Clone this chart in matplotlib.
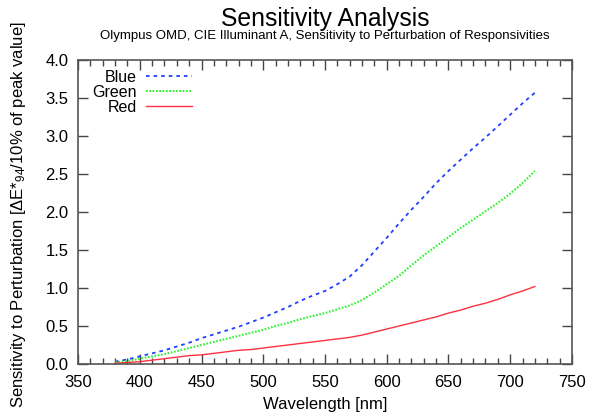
import matplotlib
matplotlib.use("Agg")
import matplotlib.pyplot as plt
from matplotlib.ticker import MultipleLocator, FormatStrFormatter

plt.rcParams['font.family'] = ['Liberation Sans', 'DejaVu Sans']
plt.rcParams['mathtext.fontset'] = 'custom'
plt.rcParams['mathtext.rm'] = 'Liberation Sans'
plt.rcParams['mathtext.it'] = 'Liberation Sans'

wavelength = list(range(380, 721, 10))
blue = [0.03, 0.06, 0.10, 0.14, 0.18, 0.23, 0.28, 0.34, 0.39, 0.44,
        0.49, 0.55, 0.61, 0.68, 0.75, 0.83, 0.90, 0.96, 1.05, 1.15,
        1.30, 1.48, 1.66, 1.85, 2.03, 2.20, 2.38, 2.54, 2.69, 2.84,
        2.98, 3.13, 3.28, 3.43, 3.57]
green = [0.02, 0.04, 0.07, 0.10, 0.13, 0.17, 0.21, 0.25, 0.29, 0.33,
         0.37, 0.41, 0.45, 0.50, 0.54, 0.59, 0.63, 0.67, 0.72, 0.77,
         0.84, 0.94, 1.05, 1.16, 1.30, 1.43, 1.55, 1.67, 1.79, 1.90,
         2.01, 2.12, 2.24, 2.38, 2.54]
red = [0.01, 0.02, 0.03, 0.05, 0.07, 0.09, 0.11, 0.12, 0.14, 0.16,
       0.18, 0.19, 0.21, 0.23, 0.25, 0.27, 0.29, 0.31, 0.33, 0.35,
       0.38, 0.42, 0.46, 0.50, 0.54, 0.58, 0.62, 0.67, 0.71, 0.76,
       0.80, 0.85, 0.91, 0.96, 1.02]

fig = plt.figure(figsize=(5.97, 4.19), dpi=100)
ax = fig.add_axes([0.1307, 0.1313, 0.958 - 0.1307, 0.8568 - 0.1313])

ax.plot(wavelength, blue, color='#2040ff', lw=1.3, dashes=(2, 2.2), label='Blue')
ax.plot(wavelength, green, color='#30f030', lw=1.5, dashes=(0.8, 0.8), label='Green')
ax.plot(wavelength, red, color='#ff3040', lw=1.0, label='Red')

ax.set_xlim(350, 750)
ax.set_ylim(0, 4.0)
ax.xaxis.set_major_locator(MultipleLocator(50))
ax.xaxis.set_minor_locator(MultipleLocator(10))
ax.yaxis.set_major_locator(MultipleLocator(0.5))
ax.yaxis.set_major_formatter(FormatStrFormatter('%.1f'))
ax.tick_params(which='both', direction='in', top=True, right=True,
               labelsize=12, color='#444444')
ax.tick_params(which='major', length=7, width=1)
ax.tick_params(which='minor', length=4, width=1)
ax.tick_params(axis='x', pad=8)
ax.tick_params(axis='y', pad=7)
for s in ax.spines.values():
    s.set_color('#555555')
    s.set_linewidth(1.2)

ax.set_xlabel('Wavelength [nm]', fontsize=12)
ax.set_ylabel(r'Sensitivity to Perturbation [$\Delta$E*$_{94}$/10% of peak value]',
              fontsize=12)
ax.yaxis.set_label_coords(-0.102, 0.49)
ax.xaxis.set_label_coords(0.5, -0.11)

leg = ax.legend(loc='upper left', markerfirst=False, frameon=False,
                fontsize=11.5, handlelength=2.9, handletextpad=0.55,
                labelspacing=0.0, borderaxespad=0.2, bbox_to_anchor=(0.01, 1.0))
for t in leg.get_texts():
    t.set_ha('right')

fig.text(0.544, 0.955, 'Sensitivity Analysis', ha='center', va='center', fontsize=17.8)
fig.text(0.544, 0.914, 'Olympus OMD, CIE Illuminant A, Sensitivity to Perturbation of Responsivities',
         ha='center', va='center', fontsize=9.5)

fig.savefig('out.png', dpi=100)
